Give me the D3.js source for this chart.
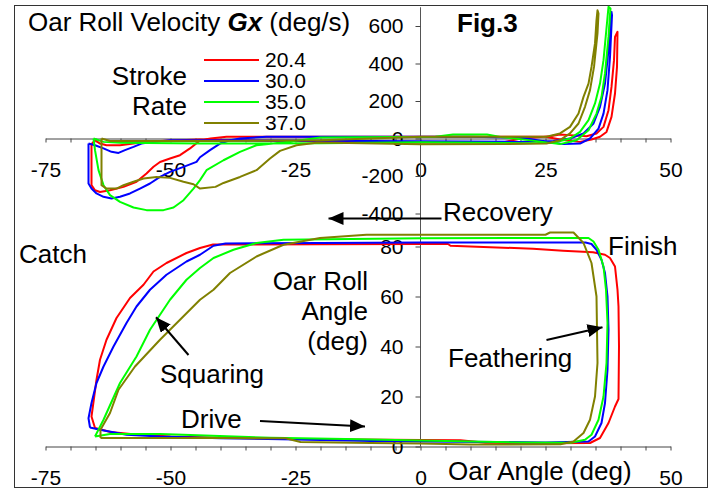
<!DOCTYPE html>
<html>
<head>
<meta charset="utf-8">
<script src="https://cdn.jsdelivr.net/npm/d3@7"></script>
<style>
  body { margin: 0; background: #fff; }
  text { font-family: Arial, "Liberation Sans", sans-serif; }
</style>
</head>
<body>
<div class="js-vis"></div>
<script>
// Stroke rates and colours
const names = ["20.4", "30.0", "35.0", "37.0"]
const colors = ["#ff0000", "#0000ff", "#00ff00", "#808000"]

// Tick labels
const xLabelsTop = [-75, -50, -25, 0, 25, 50]
const xLabelsBottom = [-75, -50, -25, 0, 50]
const velTicks = [-400, -200, 0, 200, 400, 600]
const rollTicks = [0, 20, 40, 60, 80]

// Oar roll velocity (deg/s) against oar angle (deg)
const velRed = [[-65.8,-30],[-65.1,-9],[-64.1,-27],[-62.8,-36],[-60.1,-36],[-57.4,-27],[-54.8,-18],[-52.1,-13],[-48.1,-9],[-44.1,-5],[-30,-12],[0,-21],[16.5,-21],[20,0],[25.9,12],[27.9,21],[29.9,18],[33.2,12],[35.2,27],[36.6,62],[37.6,151],[38.2,275],[38.7,418],[38.9,542],[39.4,569],[39.3,382],[38.9,240],[38.2,115],[37.2,35],[35.9,9],[34.2,-5],[31.9,-18],[28.5,-8],[25,9],[0,9],[-38.8,9],[-42,0],[-44.1,-10],[-46.1,-53],[-48.1,-89],[-50.1,-107],[-52.1,-125],[-53.4,-151],[-54.8,-187],[-56.8,-231],[-59.4,-258],[-62.1,-276],[-64.1,-285],[-65.1,-276],[-65.8,-249],[-65.8,-30]]
const velBlue = [[-66.4,-27],[-65.1,-36],[-63.4,-53],[-61.8,-71],[-60.4,-77],[-59.1,-62],[-57.4,-45],[-55.8,-27],[-53.4,-18],[-50.1,-9],[-44.1,-9],[-20,-12],[0,-15],[20,-18],[26.6,-13],[29.9,0],[32.6,27],[34.6,80],[35.9,169],[36.9,293],[37.6,471],[38,667],[38.2,675],[38.3,658],[37.9,435],[37.4,258],[36.6,133],[35.6,53],[33.9,0],[31.9,-27],[28.6,-30],[24,-12],[20,5],[10,9],[-30.8,9],[-36.1,0],[-38.1,-9],[-40.1,-27],[-42.1,-62],[-44.1,-100],[-44.8,-125],[-47.4,-151],[-50.1,-178],[-52.1,-205],[-54.1,-240],[-56.1,-267],[-58.1,-293],[-60.1,-311],[-61.8,-320],[-63.4,-311],[-64.8,-293],[-65.8,-267],[-66.4,-240],[-66.4,-27]]
const velGreen = [[-65.4,0],[-63.4,-18],[-60.1,-23],[-44.1,-27],[-20,-25],[0,-20],[20,-25],[26.6,-23],[29.9,0],[31.9,35],[33.6,98],[34.9,187],[35.9,293],[36.6,418],[37.1,560],[37.6,702],[38,693],[37.6,542],[36.9,347],[36.2,222],[35.2,133],[33.6,44],[31.2,-9],[27.9,-30],[22,-10],[16,8],[13.3,21],[6.5,21],[3,9],[-20,5],[-25.4,-14],[-29.4,-27],[-32.8,-36],[-36.1,-71],[-39.4,-116],[-42.8,-169],[-44.1,-222],[-45.4,-267],[-47.4,-329],[-49.4,-368],[-51.4,-382],[-54.8,-382],[-57.4,-368],[-60.1,-338],[-62.1,-302],[-63.4,-249],[-64.4,-169],[-65.1,-62],[-65.4,0]]
const velOlive = [[-63.8,0],[-62.1,-13],[-40,-13],[-20,-9],[-10,0],[0,9],[25.2,9],[27.9,27],[29.9,62],[31.6,133],[32.6,222],[33.6,293],[34.2,382],[34.9,507],[35.2,631],[35.4,684],[35.6,667],[35.4,560],[34.7,382],[33.9,258],[32.9,169],[31.6,80],[29.9,27],[27.9,-9],[25.2,-27],[17,-30],[0,-30],[-17.4,-23],[-20.8,-23],[-24.8,-36],[-28.1,-66],[-30.1,-107],[-32.8,-169],[-36.1,-205],[-39.4,-237],[-41,-258],[-44.1,-267],[-45.4,-244],[-47.4,-231],[-50.1,-210],[-52.8,-205],[-55.4,-213],[-57.4,-231],[-59.4,-249],[-60.8,-267],[-62.8,-267],[-63.8,-249],[-63.8,0]]

// Oar roll angle (deg) against oar angle (deg)
const rollRed = [[-65.1,7.4],[-62,5.8],[-58,5],[-50,4],[-40,3.5],[-25,3],[0,2.6],[8,2.5],[13,1.5],[25,1.3],[33.9,1.4],[35.9,3.4],[37.6,9.4],[38.9,16],[39.6,19],[39.7,40],[39.6,56],[39.4,62.7],[38.9,72],[37.9,75.4],[36.9,76.7],[34.5,77.7],[28.5,78.3],[22.5,79.1],[6,80.3],[5.5,81],[0,81],[-20,80.9],[-41.5,80.8],[-44.1,79.4],[-46.8,77.4],[-50.8,73.4],[-53.4,70],[-55.4,64.7],[-58.1,59.4],[-60.8,51.4],[-62.8,42.7],[-64.1,34.7],[-64.8,26.7],[-65.8,12],[-65.1,7.4]]
const rollBlue = [[-66.1,7.6],[-64.1,6.7],[-58.8,4.7],[-52.1,4],[-40,3.3],[-25,2.8],[-10,2.2],[0,2],[15,1.8],[25,1.6],[33.6,2],[34.9,4],[36.2,9.4],[36.9,17.4],[37.4,30.7],[37.6,46.7],[37.4,60],[36.9,69.4],[36.2,74.7],[35.2,78.7],[34.2,81],[33,81.6],[0,81.6],[-20,81.4],[-39,81.2],[-41.4,80.3],[-44.1,76.7],[-46.8,74],[-50.8,68.7],[-54.1,62.7],[-56.8,56],[-58.8,49.4],[-61.4,40],[-63.4,32],[-64.8,25.4],[-65.8,17.4],[-66.4,11.3],[-66.1,7.6]]
const rollGreen = [[-65.1,4],[-62.1,5],[-52.1,5],[-47.5,4.7],[-30,3.5],[-15,3],[0,2.4],[20,1.6],[30,1.5],[32.9,2.7],[34.2,4.7],[35.6,10.7],[36.6,20],[37.2,33.4],[37.4,49.4],[37.1,62.7],[36.6,72],[35.6,78.7],[34.6,82],[33.6,83.4],[0,83.3],[-27.4,82.7],[-32.8,81.4],[-37.4,78.7],[-41.4,75.4],[-44.1,71.4],[-46.8,66.7],[-50.1,58.7],[-54.1,46.7],[-56.8,36],[-60.1,25.4],[-63.4,10.7],[-65.1,4]]
const rollOlive = [[-64,3.4],[-40,3.4],[-27,3.3],[-24,1.8],[-10,1.4],[0,1.2],[10,0.8],[28,0.9],[30.6,2],[32.6,5.4],[33.9,10.7],[34.9,20],[35.4,33.4],[35.2,60],[34.2,73.4],[32.6,81.4],[30.6,85.6],[25.9,85.6],[25,84.7],[0,84.7],[-10.8,84.7],[-20.1,83.4],[-27.4,80.7],[-32.8,76],[-38.1,69.4],[-41.4,62.7],[-44.1,58.7],[-52.1,42.7],[-57.1,32],[-60.4,22.7],[-62.1,13.4],[-64,6.7],[-64,3.4]]

const velSeries = [velRed, velBlue, velGreen, velOlive]
const rollSeries = [rollRed, rollBlue, rollGreen, rollOlive]

const svg = d3.select(".js-vis").append("svg")
  .attr("width", 714)
  .attr("height", 491)

const x = d3.scaleLinear().domain([-75, 50]).range([45.5, 670.5])
const yV = d3.scaleLinear().domain([-400, 600]).range([213.5, 26])
const yR = d3.scaleLinear().domain([0, 80]).range([446.5, 246.5])

svg.append("rect")
  .attr("x", 14.5).attr("y", 5.5)
  .attr("width", 693).attr("height", 482)
  .attr("fill", "#fff")
  .attr("stroke", "#333")

function styleAxis(g) {
  g.selectAll("line").attr("stroke", "#444")
  g.select(".domain").attr("stroke", "#444")
  g.selectAll("text").attr("font-size", 21).attr("fill", "#000")
    .attr("font-family", "Arial, 'Liberation Sans', sans-serif")
}

// x axes: minor ticks every 5 deg
svg.append("g")
  .attr("transform", "translate(0," + yV(0) + ")")
  .call(d3.axisBottom(x).tickValues(d3.range(-75, 51, 5)).tickSize(4).tickSizeOuter(0)
    .tickPadding(20).tickFormat(d => xLabelsTop.includes(d) ? String(d) : ""))
  .call(styleAxis)

svg.append("g")
  .attr("transform", "translate(0," + yR(0) + ")")
  .call(d3.axisBottom(x).tickValues(d3.range(-75, 51, 5)).tickSize(4).tickSizeOuter(0)
    .tickPadding(20).tickFormat(d => xLabelsBottom.includes(d) ? String(d) : ""))
  .call(styleAxis)

// y axes share one vertical line at oar angle 0
svg.append("line")
  .attr("x1", x(0)).attr("x2", x(0))
  .attr("y1", yV(700)).attr("y2", yR(0))
  .attr("stroke", "#555")

svg.append("g")
  .attr("transform", "translate(" + x(0) + ",0)")
  .call(d3.axisLeft(yV).tickValues(velTicks).tickSize(5).tickPadding(12).tickFormat(String))
  .call(styleAxis)
  .call(g => g.select(".domain").remove())

svg.append("g")
  .attr("transform", "translate(" + x(0) + ",0)")
  .call(d3.axisLeft(yR).tickValues(rollTicks).tickSize(5).tickPadding(12).tickFormat(String))
  .call(styleAxis)
  .call(g => g.select(".domain").remove())

const lineV = d3.line().x(d => x(d[0])).y(d => yV(d[1]))
const lineR = d3.line().x(d => x(d[0])).y(d => yR(d[1]))

svg.append("g").selectAll("path")
  .data(velSeries)
.enter().append("path")
  .attr("d", lineV)
  .attr("fill", "none")
  .attr("stroke", (d, i) => colors[i])
  .attr("stroke-width", 2)
  .attr("stroke-linejoin", "round")

svg.append("g").selectAll("path")
  .data(rollSeries)
.enter().append("path")
  .attr("d", lineR)
  .attr("fill", "none")
  .attr("stroke", (d, i) => colors[i])
  .attr("stroke-width", 2)
  .attr("stroke-linejoin", "round")

// legend
const legend = svg.append("g")
legend.selectAll("line")
  .data(names)
.enter().append("line")
  .attr("x1", 204).attr("x2", 259)
  .attr("y1", (d, i) => 60 + i * 21).attr("y2", (d, i) => 60 + i * 21)
  .attr("stroke", (d, i) => colors[i])
  .attr("stroke-width", 2)
legend.selectAll("text")
  .data(names)
.enter().append("text")
  .attr("x", 265)
  .attr("y", (d, i) => 67 + i * 21)
  .attr("font-size", 21)
  .text(d => d)

const label = (t, px, py, anchor) => svg.append("text")
  .attr("x", px).attr("y", py)
  .attr("font-size", 26)
  .attr("text-anchor", anchor || "start")
  .text(t)

label("Stroke", 187, 85, "end")
label("Rate", 187, 115, "end")

const title = svg.append("text").attr("x", 28).attr("y", 31).attr("font-size", 26)
title.append("tspan").text("Oar Roll Velocity ")
title.append("tspan").attr("font-weight", "bold").attr("font-style", "italic").text("Gx")
title.append("tspan").text(" (deg/s)")

label("Fig.3", 457, 32).attr("font-weight", "bold")
label("Recovery", 443, 221)
label("Catch", 19, 263)
label("Finish", 608, 255)
label("Oar Roll", 368, 290, "end")
label("Angle", 368, 320, "end")
label("(deg)", 368, 350, "end")
label("Squaring", 160, 383)
label("Drive", 181, 428)
label("Feathering", 448, 367)
label("Oar Angle (deg)", 448, 480)

// annotation arrows, in oar angle / roll angle units
const arrows = [
  [[4.2, 91.2], [-18.4, 91.2]],
  [[-32.1, 10.2], [-11.1, 8]],
  [[-46.4, 36.6], [-52.9, 51.7]],
  [[25.2, 42.6], [36.4, 47.7]]
]

svg.append("defs").append("marker")
  .attr("id", "head")
  .attr("viewBox", "0 0 15 13")
  .attr("refX", 15).attr("refY", 6.5)
  .attr("markerWidth", 15).attr("markerHeight", 13)
  .attr("markerUnits", "userSpaceOnUse")
  .attr("orient", "auto")
.append("path")
  .attr("d", "M0,0L15,6.5L0,13Z")
  .attr("fill", "#000")

svg.append("g").selectAll("line")
  .data(arrows)
.enter().append("line")
  .attr("x1", d => x(d[0][0])).attr("y1", d => yR(d[0][1]))
  .attr("x2", d => x(d[1][0])).attr("y2", d => yR(d[1][1]))
  .attr("stroke", "#000")
  .attr("stroke-width", 2)
  .attr("marker-end", "url(#head)")
</script>
</body>
</html>
